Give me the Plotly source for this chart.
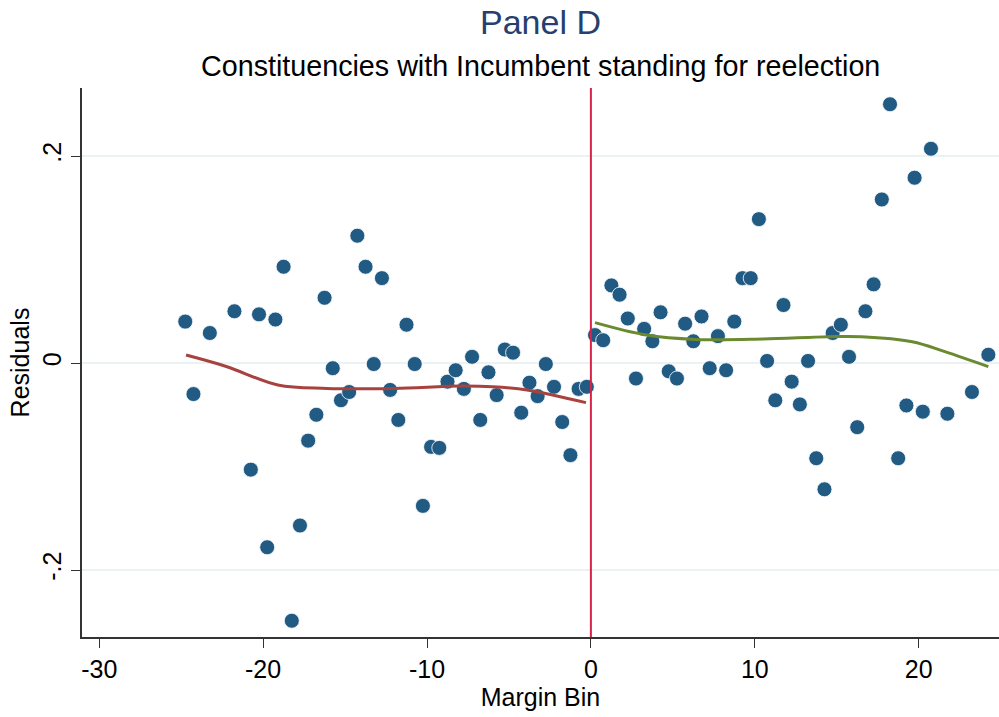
import plotly.graph_objects as go

# ── data ──────────────────────────────────────────────────────────────────────

left_x = [-24.75, -24.25, -23.25, -21.75, -20.75, -20.25, -19.75, -19.25, -18.75,
          -18.25, -17.75, -17.25, -16.75, -16.25, -15.75, -15.25, -14.75, -14.25,
          -13.75, -13.25, -12.75, -12.25, -11.75, -11.25, -10.75, -10.25, -9.75,
          -9.25, -8.75, -8.25, -7.75, -7.25, -6.75, -6.25, -5.75, -5.25, -4.75,
          -4.25, -3.75, -3.25, -2.75, -2.25, -1.75, -1.25, -0.75, -0.25]
left_y = [0.040, -0.030, 0.029, 0.050, -0.103, 0.047, -0.178, 0.042, 0.093,
          -0.249, -0.157, -0.075, -0.050, 0.063, -0.005, -0.036, -0.028, 0.123,
          0.093, -0.001, 0.082, -0.026, -0.055, 0.037, -0.001, -0.138, -0.081,
          -0.082, -0.018, -0.007, -0.025, 0.006, -0.055, -0.009, -0.031, 0.013,
          0.010, -0.048, -0.019, -0.032, -0.001, -0.023, -0.057, -0.089, -0.025,
          -0.023]

right_x = [0.25, 0.75, 1.25, 1.75, 2.25, 2.75, 3.25, 3.75, 4.25, 4.75, 5.25, 5.75,
           6.25, 6.75, 7.25, 7.75, 8.25, 8.75, 9.25, 9.75, 10.25, 10.75, 11.25,
           11.75, 12.25, 12.75, 13.25, 13.75, 14.25, 14.75, 15.25, 15.75, 16.25,
           16.75, 17.25, 17.75, 18.25, 18.75, 19.25, 19.75, 20.25, 20.75, 21.75,
           23.25, 24.25]
right_y = [0.027, 0.022, 0.075, 0.066, 0.043, -0.015, 0.033, 0.021, 0.049, -0.008,
           -0.015, 0.038, 0.021, 0.045, -0.005, 0.026, -0.007, 0.040, 0.082, 0.082,
           0.139, 0.002, -0.036, 0.056, -0.018, -0.040, 0.002, -0.092, -0.122,
           0.029, 0.037, 0.006, -0.062, 0.050, 0.076, 0.158, 0.250, -0.092, -0.041,
           0.179, -0.047, 0.207, -0.049, -0.028, 0.008]

# fitted polynomials
fit_left_x = [-24.7, -22.2, -19.1, -16.1, -12.0, -8.0, -6.0, -3.9, -0.3]
fit_left_y = [0.0077, -0.0036, -0.0213, -0.0245, -0.0245, -0.0222, -0.0229, -0.026, -0.0383]
fit_right_x = [0.25, 3.4, 6.4, 10.5, 14.5, 16.5, 19.6, 21.6, 24.25]
fit_right_y = [0.039, 0.027, 0.0228, 0.0232, 0.0254, 0.0254, 0.0206, 0.011, -0.0035]

x_ticks = [-30, -20, -10, 0, 10, 20]
x_tick_text = ["-30", "-20", "-10", "0", "10", "20"]
y_ticks = [-0.2, 0, 0.2]
y_tick_text = ["-.2", "0", ".2"]

FONT = "Liberation Sans, Arial, Helvetica, sans-serif"
DOT = "#215B83"

# ── figure ────────────────────────────────────────────────────────────────────

fig = go.Figure()

fig.add_trace(go.Scatter(
    x=left_x + right_x, y=left_y + right_y, mode="markers",
    marker=dict(color=DOT, size=15, line=dict(color="white", width=0.8)),
    showlegend=False,
))
fig.add_trace(go.Scatter(
    x=fit_left_x, y=fit_left_y, mode="lines", line_shape="spline",
    line=dict(color="#A8423F", width=3), showlegend=False,
))
fig.add_trace(go.Scatter(
    x=fit_right_x, y=fit_right_y, mode="lines", line_shape="spline",
    line=dict(color="#6B8A2F", width=3), showlegend=False,
))

fig.add_shape(type="line", xref="x", yref="paper", x0=0, x1=0, y0=0, y1=1,
              line=dict(color="#D8234A", width=2))

axis_common = dict(
    showline=True, linecolor="#333333", linewidth=1.5, automargin=False,
    ticks="outside", ticklen=9, tickwidth=1.2, tickcolor="#333333",
    zeroline=False, tickfont=dict(family=FONT, size=25, color="black"),
)

fig.update_layout(
    width=999, height=717,
    margin=dict(l=82, r=0, t=88, b=80),
    paper_bgcolor="white", plot_bgcolor="white",
    font=dict(family=FONT, color="black"),
    xaxis=dict(
        **axis_common,
        range=[-31.05, 24.9], tickvals=x_ticks, ticktext=x_tick_text, showgrid=False,
        title=dict(text="Margin Bin", font=dict(family=FONT, size=25), standoff=0),
    ),
    yaxis=dict(
        **axis_common,
        range=[-0.2647, 0.2657], tickvals=y_ticks, ticktext=y_tick_text,
        tickangle=-90, showgrid=True, gridcolor="#EAF2F3", gridwidth=1.5,
        title=dict(text="Residuals", font=dict(family=FONT, size=25), standoff=2),
    ),
    annotations=[
        dict(text="Panel D", xref="paper", yref="paper", x=0.5, y=1.0,
             yshift=66, showarrow=False, xanchor="center", yanchor="middle",
             font=dict(family=FONT, size=34, color="#263F6E")),
        dict(text="Constituencies with Incumbent standing for reelection",
             xref="paper", yref="paper", x=0.5, y=1.0, yshift=22,
             showarrow=False, xanchor="center", yanchor="middle",
             font=dict(family=FONT, size=28.7, color="black")),
    ],
)

# drop the browser's default body margin so the figure sits at the page corner
fig.write_html("out.html", config={"displayModeBar": False},
               post_script="document.body.style.margin = '0';")
